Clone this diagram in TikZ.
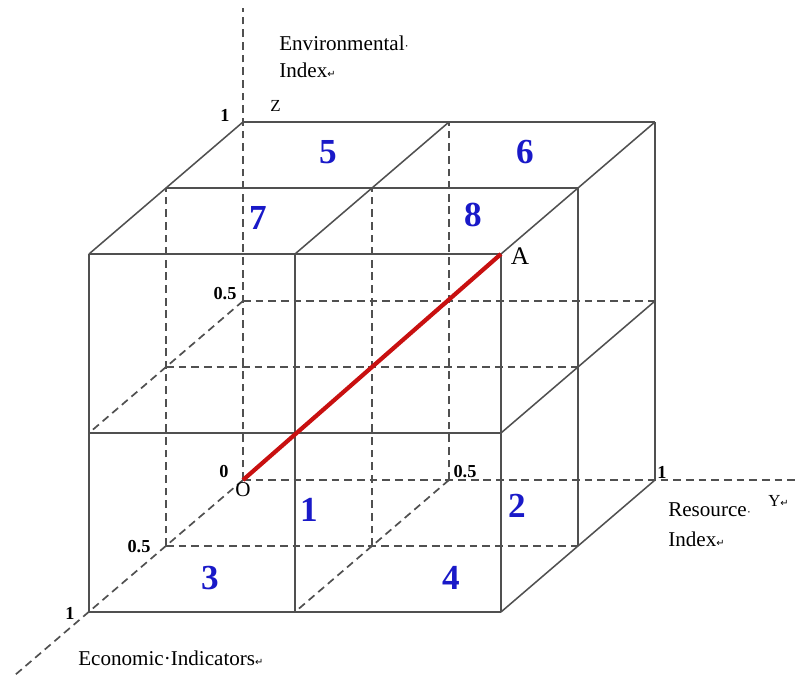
\documentclass[tikz,border=0pt]{standalone}
\usepackage{fontspec}
\setmainfont{Liberation Serif}
\newfontfamily\markfont{DejaVu Sans}
\usetikzlibrary{positioning}
\definecolor{cellblue}{RGB}{25,25,200}
\definecolor{diagred}{RGB}{200,16,16}
\definecolor{edgegray}{RGB}{80,80,80}
\newcommand{\retmark}{{\markfont\fontsize{7}{7}\selectfont ↵}}
\newcommand{\spcmark}{{\fontsize{9}{9}\selectfont ·}}

\begin{document}
\begin{tikzpicture}[
  x=0.025cm, y=-0.025cm,
  every node/.style={font=\fontsize{15}{18}\selectfont, inner sep=0pt},
  visible/.style={draw=edgegray, line width=1.1pt},
  hidden/.style={draw=edgegray, line width=1.2pt, dash pattern=on 5.5pt off 3.5pt},
  diag/.style={draw=diagred, line width=3pt},
  cell/.style={font=\bfseries\fontsize{25}{25}\selectfont, text=cellblue},
  tick/.style={font=\bfseries\fontsize{13}{13}\selectfont},
  axlabel/.style={font=\fontsize{15}{18}\selectfont, anchor=base west},
  axname/.style={font=\fontsize{12}{12}\selectfont, anchor=base west},
]
  \useasboundingbox (0, 0) rectangle (798, 675);

  % Grid points of the unit cube, p<x><y><z> with steps of 0.5
  \foreach \i in {0,1,2}
    \foreach \j in {0,1,2}
      \foreach \k in {0,1,2}
        \coordinate (p\i\j\k) at ({243-77*\i+206*\j}, {480+66*\i-179*\k});

  % Axis ends
  \coordinate (zend) at (243, 8);
  \coordinate (yend) at (795, 480);
  \coordinate (xend) at (15, 675);

  % Axes
  \draw[hidden] (p000) -- (zend);
  \draw[hidden] (p000) -- (yend);
  \draw[hidden] (p000) -- (xend);

  % Hidden edges
  \foreach \a/\b in {p010/p012, p001/p021, p100/p102, p001/p201, p100/p120,
                     p010/p210, p110/p112, p101/p121, p011/p211}
    \draw[hidden] (\a) -- (\b);

  % Visible edges
  \foreach \a/\b in {p002/p022, p202/p222, p002/p202, p022/p222, p102/p122,
                     p012/p212, p200/p202, p220/p222, p210/p212, p200/p220,
                     p201/p221, p020/p022, p120/p122, p020/p220, p021/p221}
    \draw[visible] (\a) -- (\b);

  % Diagonal O to A
  \draw[diag] (p000) -- (p222);

  % Cell numbers
  \node[cell] (c5) at (328, 152) {5};
  \node[cell] (c6) at (525, 152) {6};
  \node[cell] (c7) at (258, 218) {7};
  \node[cell] (c8) at (473, 215) {8};
  \node[cell] (c1) at (309, 510) {1};
  \node[cell] (c2) at (517, 506) {2};
  \node[cell] (c3) at (210, 578) {3};
  \node[cell] (c4) at (451, 578) {4};

  % Ticks
  \node[tick] (tz1) at (225, 115) {1};
  \node[tick] (tz5) at (225, 294) {0.5};
  \node[tick] (t0) at (224, 472) {0};
  \node[tick] (ty5) at (465, 472) {0.5};
  \node[tick] (ty1) at (662, 472) {1};
  \node[tick] (tx5) at (139, 547) {0.5};
  \node[tick] (tx1) at (70, 613) {1};

  % Points
  \node[font=\fontsize{15}{15}\selectfont] (o) at (243, 490) {O};
  \node[font=\fontsize{18}{18}\selectfont] (a) at (520, 256) {A};

  % Axis labels
  \node[axname] (zname) at (270, 112) {Z};
  \node[axname] (yname) at (768, 507) {Y\retmark};
  \node[axlabel] (env1) at (279, 51) {Environmental\spcmark};
  \node[axlabel] (env2) at (279, 78) {Index\retmark};
  \node[axlabel] (res1) at (668, 517) {Resource\spcmark};
  \node[axlabel] (res2) at (668, 547) {Index\retmark};
  \node[axlabel] (eco) at (78, 665) {Economic·Indicators\retmark};
\end{tikzpicture}
\end{document}
